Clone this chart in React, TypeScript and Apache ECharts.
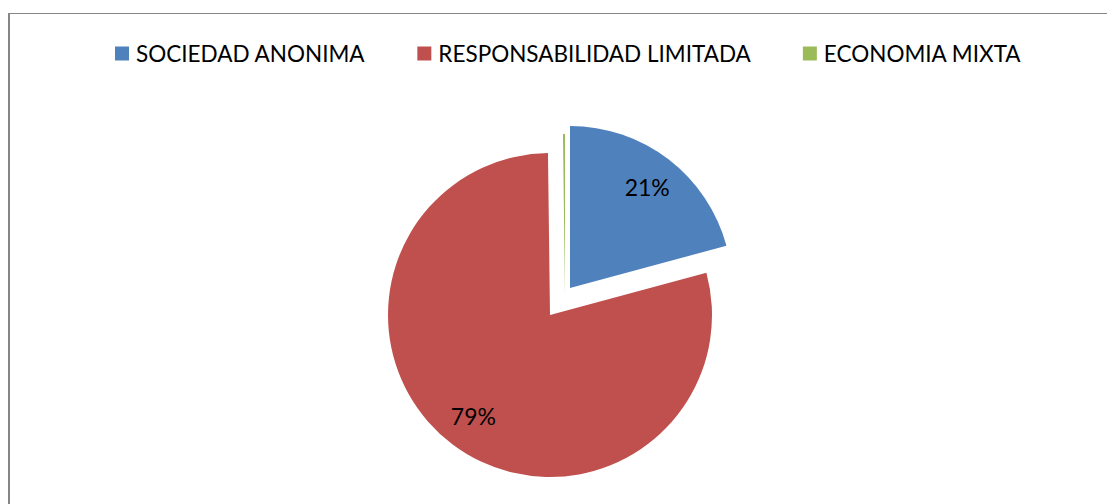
import React, { useEffect, useRef } from "react";
import * as echarts from "echarts";

const categories = ["SOCIEDAD ANONIMA", "RESPONSABILIDAD LIMITADA", "ECONOMIA MIXTA"];
const values = [20.8, 79.0, 0.2];
const colors = ["#4F81BD", "#C0504D", "#9BBB59"];
// exploded slice centers (Excel-style explosion)
const sliceCenters: number[][] = [[570, 288], [550, 315], [565, 296]];
const showLabel = [true, true, false];

export default function App() {
  const ref = useRef<HTMLDivElement>(null);
  useEffect(() => {
    const chart = echarts.init(ref.current!, null, { renderer: "svg" });
    const R = 162;
    const base = {
      type: "pie",
      startAngle: 90,
      clockwise: true,
      silent: true,
      avoidLabelOverlap: false,
      percentPrecision: 0,
      selectedMode: false,
      emphasis: { disabled: true },
      labelLine: { show: false },
    };
    const series: any[] = [];
    categories.forEach((_, i) => {
      series.push({
        ...base,
        center: sliceCenters[i],
        radius: [0, R],
        label: { show: false },
        data: categories.map((name, j) => ({
          name,
          value: values[j],
          itemStyle: { color: j === i ? colors[j] : "transparent" },
        })),
      });
      if (showLabel[i]) {
        series.push({
          ...base,
          center: sliceCenters[i],
          radius: [86, R],
          z: 5,
          data: categories.map((name, j) => ({
            name,
            value: values[j],
            itemStyle: { color: "transparent" },
            label: {
              show: j === i,
              position: "inside",
              formatter: "{d}%",
              color: "#000",
              fontSize: 23,
              fontFamily: "Lato",
            },
          })),
        });
      }
    });
    chart.setOption({
      animation: false,
      backgroundColor: "#fff",
      legend: {
        left: 115,
        top: 42,
        padding: 0,
        itemWidth: 14,
        itemHeight: 14,
        itemGap: 52,
        icon: "rect",
        selectedMode: false,
        textStyle: { fontFamily: "Lato", fontSize: 22.5, color: "#000", padding: [0, 0, 0, 2] },
        data: categories.map((name, j) => ({ name, itemStyle: { color: colors[j] } })),
      },
      graphic: [
        { type: "line", silent: true, shape: { x1: 9, y1: 13, x2: 9, y2: 504 }, style: { stroke: "#868686", lineWidth: 2 } },
        { type: "line", silent: true, shape: { x1: 8, y1: 13.5, x2: 1107, y2: 13.5 }, style: { stroke: "#868686", lineWidth: 1 } },
      ],
      series,
    });
    return () => chart.dispose();
  }, []);
  return (
    <div
      ref={ref}
      style={{ position: "fixed", left: 0, top: 0, width: 1107, height: 504 }}
    />
  );
}
